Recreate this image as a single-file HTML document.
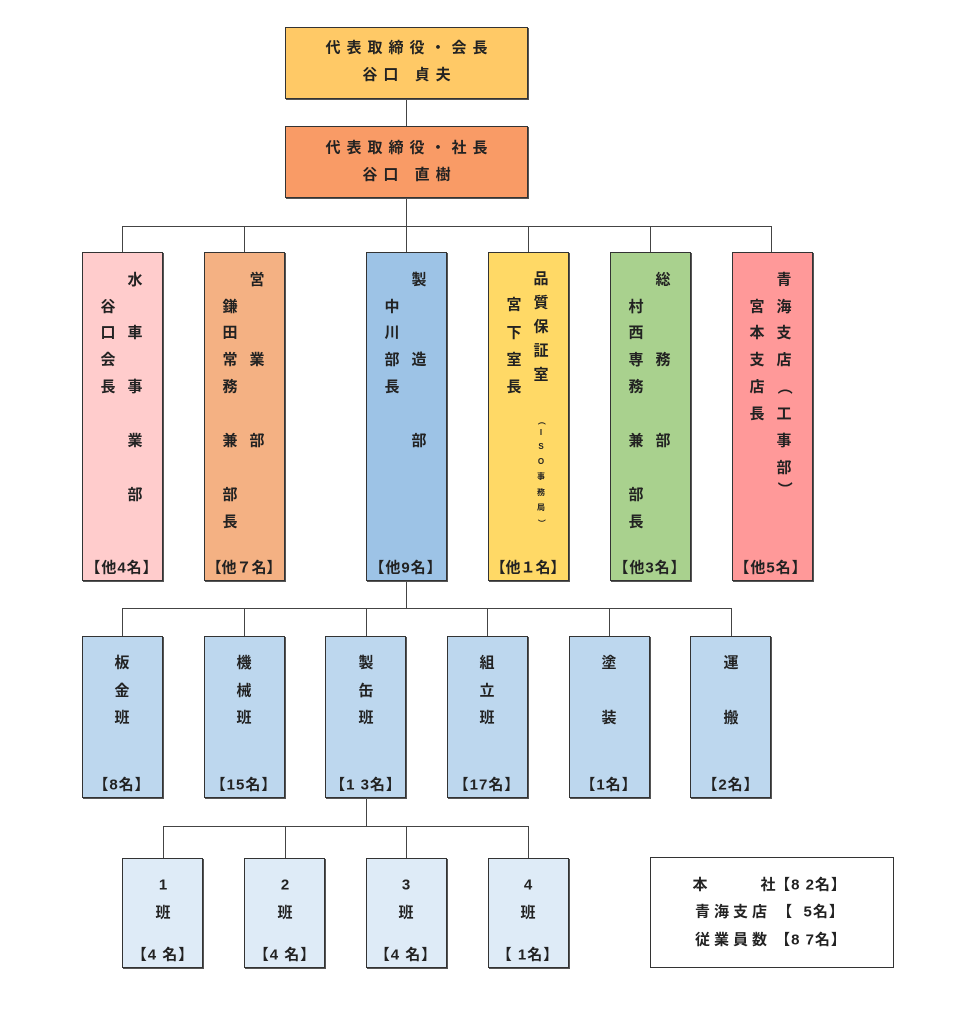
<!DOCTYPE html>
<html><head><meta charset="utf-8">
<style>
html,body{margin:0;padding:0;background:#fff;}
body{width:976px;height:1024px;position:relative;overflow:hidden;font-family:"Liberation Sans","Noto Sans CJK JP",sans-serif;font-weight:bold;color:#222;}
.b{position:absolute;box-sizing:border-box;border:1px solid #333;box-shadow:1px 1px 0 #555;}
.l{position:absolute;background:#444;}
.c{position:absolute;transform:translate(-50%,-50%);font-size:15px;line-height:1;white-space:nowrap;}
.f{letter-spacing:1px;}
.s{position:absolute;transform:translate(-50%,-50%);font-size:8px;line-height:1;}
.t{position:absolute;left:0;width:100%;text-align:center;font-size:15px;line-height:1;transform:translateY(-50%);white-space:nowrap;letter-spacing:6px;text-indent:6px;}
</style></head><body>

<div class="l" style="left:406px;top:99px;width:1px;height:27px"></div>
<div class="l" style="left:406px;top:198px;width:1px;height:28px"></div>
<div class="l" style="left:122px;top:226px;width:650px;height:1px"></div>
<div class="l" style="left:122px;top:226px;width:1px;height:26px"></div>
<div class="l" style="left:244px;top:226px;width:1px;height:26px"></div>
<div class="l" style="left:406px;top:226px;width:1px;height:26px"></div>
<div class="l" style="left:528px;top:226px;width:1px;height:26px"></div>
<div class="l" style="left:650px;top:226px;width:1px;height:26px"></div>
<div class="l" style="left:771px;top:226px;width:1px;height:26px"></div>

<div class="l" style="left:406px;top:581px;width:1px;height:27px"></div>
<div class="l" style="left:122px;top:608px;width:610px;height:1px"></div>
<div class="l" style="left:122px;top:608px;width:1px;height:28px"></div>
<div class="l" style="left:244px;top:608px;width:1px;height:28px"></div>
<div class="l" style="left:366px;top:608px;width:1px;height:28px"></div>
<div class="l" style="left:487px;top:608px;width:1px;height:28px"></div>
<div class="l" style="left:609px;top:608px;width:1px;height:28px"></div>
<div class="l" style="left:731px;top:608px;width:1px;height:28px"></div>

<div class="l" style="left:366px;top:798px;width:1px;height:28px"></div>
<div class="l" style="left:163px;top:826px;width:366px;height:1px"></div>
<div class="l" style="left:163px;top:826px;width:1px;height:32px"></div>
<div class="l" style="left:285px;top:826px;width:1px;height:32px"></div>
<div class="l" style="left:406px;top:826px;width:1px;height:32px"></div>
<div class="l" style="left:528px;top:826px;width:1px;height:32px"></div>

<div class="b" style="left:285px;top:27px;width:243px;height:72px;background:#FFC966">
<div class="t" style="top:20px">代表取締役・会長</div>
<div class="t" style="top:47px">谷口&nbsp;貞夫</div>
</div>
<div class="b" style="left:285px;top:126px;width:243px;height:72px;background:#F99B66">
<div class="t" style="top:21px">代表取締役・社長</div>
<div class="t" style="top:48px">谷口&nbsp;直樹</div>
</div>

<div class="b" style="left:82px;top:252px;width:81px;height:329px;background:#FFCCCC"></div>
<div class="b" style="left:204px;top:252px;width:81px;height:329px;background:#F4B183"></div>
<div class="b" style="left:366px;top:252px;width:81px;height:329px;background:#9DC3E6"></div>
<div class="b" style="left:488px;top:252px;width:81px;height:329px;background:#FFD966"></div>
<div class="b" style="left:610px;top:252px;width:81px;height:329px;background:#A9D18E"></div>
<div class="b" style="left:732px;top:252px;width:81px;height:329px;background:#FF9999"></div>

<span class="c" style="left:135px;top:280px">水</span>
<span class="c" style="left:108px;top:307px">谷</span>
<span class="c" style="left:108px;top:333px">口</span><span class="c" style="left:135px;top:333px">車</span>
<span class="c" style="left:108px;top:360px">会</span>
<span class="c" style="left:108px;top:387px">長</span><span class="c" style="left:135px;top:387px">事</span>
<span class="c" style="left:135px;top:441px">業</span>
<span class="c" style="left:135px;top:495px">部</span>
<span class="c f" style="left:122px;top:568px">【他4名】</span>

<span class="c" style="left:257px;top:280px">営</span>
<span class="c" style="left:230px;top:307px">鎌</span>
<span class="c" style="left:230px;top:333px">田</span>
<span class="c" style="left:230px;top:360px">常</span><span class="c" style="left:257px;top:360px">業</span>
<span class="c" style="left:230px;top:387px">務</span>
<span class="c" style="left:230px;top:441px">兼</span><span class="c" style="left:257px;top:441px">部</span>
<span class="c" style="left:230px;top:495px">部</span>
<span class="c" style="left:230px;top:522px">長</span>
<span class="c" style="left:244px;top:568px">【他７名】</span>

<span class="c" style="left:419px;top:280px">製</span>
<span class="c" style="left:392px;top:307px">中</span>
<span class="c" style="left:392px;top:333px">川</span>
<span class="c" style="left:392px;top:360px">部</span><span class="c" style="left:419px;top:360px">造</span>
<span class="c" style="left:392px;top:387px">長</span>
<span class="c" style="left:419px;top:441px">部</span>
<span class="c f" style="left:406px;top:568px">【他9名】</span>

<span class="c" style="left:541px;top:279px">品</span>
<span class="c" style="left:541px;top:303px">質</span>
<span class="c" style="left:541px;top:327px">保</span>
<span class="c" style="left:541px;top:351px">証</span>
<span class="c" style="left:541px;top:375px">室</span>
<span class="c" style="left:514px;top:305px">宮</span>
<span class="c" style="left:514px;top:333px">下</span>
<span class="c" style="left:514px;top:360px">室</span>
<span class="c" style="left:514px;top:387px">長</span>
<span class="s" style="left:541px;top:421px;transform:translate(-50%,-50%) rotate(90deg)">（</span>
<span class="s" style="left:541px;top:433px">I</span>
<span class="s" style="left:541px;top:447px">S</span>
<span class="s" style="left:541px;top:462px">O</span>
<span class="s" style="left:541px;top:477px">事</span>
<span class="s" style="left:541px;top:493px">務</span>
<span class="s" style="left:541px;top:508px">局</span>
<span class="s" style="left:541px;top:523px;transform:translate(-50%,-50%) rotate(90deg)">）</span>
<span class="c" style="left:528px;top:568px">【他１名】</span>

<span class="c" style="left:663px;top:280px">総</span>
<span class="c" style="left:636px;top:307px">村</span>
<span class="c" style="left:636px;top:333px">西</span>
<span class="c" style="left:636px;top:360px">専</span><span class="c" style="left:663px;top:360px">務</span>
<span class="c" style="left:636px;top:387px">務</span>
<span class="c" style="left:636px;top:441px">兼</span><span class="c" style="left:663px;top:441px">部</span>
<span class="c" style="left:636px;top:495px">部</span>
<span class="c" style="left:636px;top:522px">長</span>
<span class="c f" style="left:650px;top:568px">【他3名】</span>

<span class="c" style="left:784px;top:280px">青</span>
<span class="c" style="left:757px;top:307px">宮</span><span class="c" style="left:784px;top:307px">海</span>
<span class="c" style="left:757px;top:333px">本</span><span class="c" style="left:784px;top:333px">支</span>
<span class="c" style="left:757px;top:360px">支</span><span class="c" style="left:784px;top:360px">店</span>
<span class="c" style="left:757px;top:387px">店</span><span class="c" style="left:784px;top:387px;transform:translate(-50%,-50%) rotate(90deg)">（</span>
<span class="c" style="left:757px;top:414px">長</span><span class="c" style="left:784px;top:414px">工</span>
<span class="c" style="left:784px;top:441px">事</span>
<span class="c" style="left:784px;top:468px">部</span>
<span class="c" style="left:784px;top:489px;transform:translate(-50%,-50%) rotate(90deg)">）</span>
<span class="c f" style="left:771px;top:568px">【他5名】</span>

<div class="b" style="left:82px;top:636px;width:81px;height:162px;background:#BDD7EE"></div>
<div class="b" style="left:204px;top:636px;width:81px;height:162px;background:#BDD7EE"></div>
<div class="b" style="left:325px;top:636px;width:81px;height:162px;background:#BDD7EE"></div>
<div class="b" style="left:447px;top:636px;width:81px;height:162px;background:#BDD7EE"></div>
<div class="b" style="left:569px;top:636px;width:81px;height:162px;background:#BDD7EE"></div>
<div class="b" style="left:690px;top:636px;width:81px;height:162px;background:#BDD7EE"></div>

<span class="c" style="left:122px;top:663px">板</span><span class="c" style="left:122px;top:691px">金</span><span class="c" style="left:122px;top:718px">班</span><span class="c f" style="left:122px;top:785px">【8名】</span>
<span class="c" style="left:244px;top:663px">機</span><span class="c" style="left:244px;top:691px">械</span><span class="c" style="left:244px;top:718px">班</span><span class="c f" style="left:244px;top:785px">【15名】</span>
<span class="c" style="left:366px;top:663px">製</span><span class="c" style="left:366px;top:691px">缶</span><span class="c" style="left:366px;top:718px">班</span><span class="c f" style="left:366px;top:785px">【1 3名】</span>
<span class="c" style="left:487px;top:663px">組</span><span class="c" style="left:487px;top:691px">立</span><span class="c" style="left:487px;top:718px">班</span><span class="c f" style="left:487px;top:785px">【17名】</span>
<span class="c" style="left:609px;top:663px">塗</span><span class="c" style="left:609px;top:718px">装</span><span class="c f" style="left:609px;top:785px">【1名】</span>
<span class="c" style="left:731px;top:663px">運</span><span class="c" style="left:731px;top:718px">搬</span><span class="c f" style="left:731px;top:785px">【2名】</span>

<div class="b" style="left:122px;top:858px;width:81px;height:110px;background:#DEEBF7"></div>
<div class="b" style="left:244px;top:858px;width:81px;height:110px;background:#DEEBF7"></div>
<div class="b" style="left:366px;top:858px;width:81px;height:110px;background:#DEEBF7"></div>
<div class="b" style="left:488px;top:858px;width:81px;height:110px;background:#DEEBF7"></div>
<span class="c" style="left:163px;top:885px">1</span><span class="c" style="left:163px;top:913px">班</span><span class="c f" style="left:163px;top:955px">【4 名】</span>
<span class="c" style="left:285px;top:885px">2</span><span class="c" style="left:285px;top:913px">班</span><span class="c f" style="left:285px;top:955px">【4 名】</span>
<span class="c" style="left:406px;top:885px">3</span><span class="c" style="left:406px;top:913px">班</span><span class="c f" style="left:406px;top:955px">【4 名】</span>
<span class="c" style="left:528px;top:885px">4</span><span class="c" style="left:528px;top:913px">班</span><span class="c f" style="left:528px;top:955px">【 1名】</span>

<div class="b" style="left:650px;top:857px;width:244px;height:111px;background:#fff;box-shadow:none"></div>
<span class="c" style="left:700px;top:885px">本</span><span class="c" style="left:768px;top:885px">社</span><span class="c f" style="left:811px;top:885px">【8 2名】</span>
<span class="c" style="left:733px;top:912px;letter-spacing:4px">青海支店</span><span class="c f" style="left:811px;top:912px">【&nbsp;&nbsp;5名】</span>
<span class="c" style="left:733px;top:940px;letter-spacing:4px">従業員数</span><span class="c f" style="left:811px;top:940px">【8 7名】</span>

</body></html>
